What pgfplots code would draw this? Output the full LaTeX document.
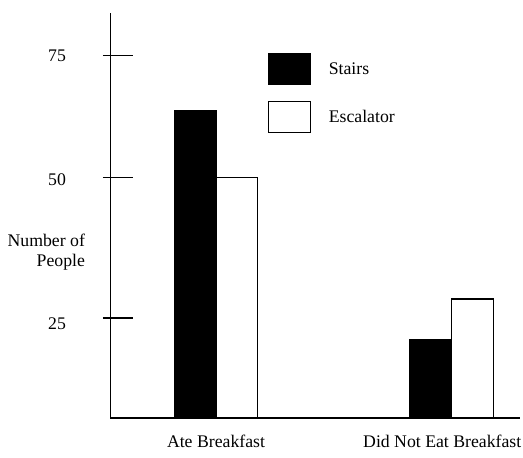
\documentclass[border=0pt]{standalone}
\usepackage{fontspec}
\setmainfont{Liberation Serif}
\usepackage{pgfplots}
\pgfplotsset{compat=1.18}
\usetikzlibrary{calc}

\begin{document}
\begin{tikzpicture}[font=\fontsize{17.8}{20}\selectfont]
\begin{axis}[
  name=ax,
  scale only axis,
  width=409.5bp, height=405bp,
  ybar=0pt, bar width=41.7bp,
  xmin=-0.4476, xmax=1.2898,
  ymin=0, ymax=83.75,
  % the hand-drawn scale is not linear: 25, 50, 75 sit at uneven heights
  y coord trafo/.code={\pgfmathparse{ifthenelse(#1<=25,4*#1,ifthenelse(#1<=50,100+(#1-25)*5.612,240.3+(#1-50)*4.88))}},
  axis lines=left,
  axis line style={-, line width=1.2bp},
  xtick={0,0.96},
  xticklabels={Ate Breakfast, Did Not Eat Breakfast},
  xtick style={draw=none},
  xticklabel style={anchor=north, yshift=2bp},
  ytick={25,50,75},
  yticklabels={\raisebox{-6bp}[\height][\depth]{25},\raisebox{-2bp}[\height][\depth]{50},75},
  tick align=center,
  major tick length=30bp,
  ytick style={xshift=7.5bp, line width=1.4bp, black},
  yticklabel style={anchor=east, xshift=-26bp},
  ylabel={Number of\\People},
  ylabel style={rotate=-90, anchor=east, align=right,
    at={(axis description cs:0,0.4106)}, xshift=-22bp},
  legend image code/.code={\draw[#1, line width=1.2bp] (0bp,-15.3bp) rectangle (41.7bp,15.3bp);},
  legend style={draw=none, fill=none, at={(axis description cs:0,1)},
    anchor=north west, xshift=157.2bp, yshift=-40.3bp,
    inner sep=0pt, row sep=16bp, column sep=18bp,
    nodes={inner sep=0pt, anchor=west}},
  legend cell align=left,
]
\addplot[fill=black, draw=black, line width=1.2bp] coordinates {(0,63.7) (1,19.5)};
\addplot[fill=white, draw=black, line width=1.2bp] coordinates {(0,50) (1,28.4)};
\legend{Stairs, Escalator}
\end{axis}
\pgfresetboundingbox
\path ($(ax.south west)+(-110.5bp,-40bp)$) rectangle ($(ax.south west)+(412.5bp,418bp)$);
\end{tikzpicture}
\end{document}
